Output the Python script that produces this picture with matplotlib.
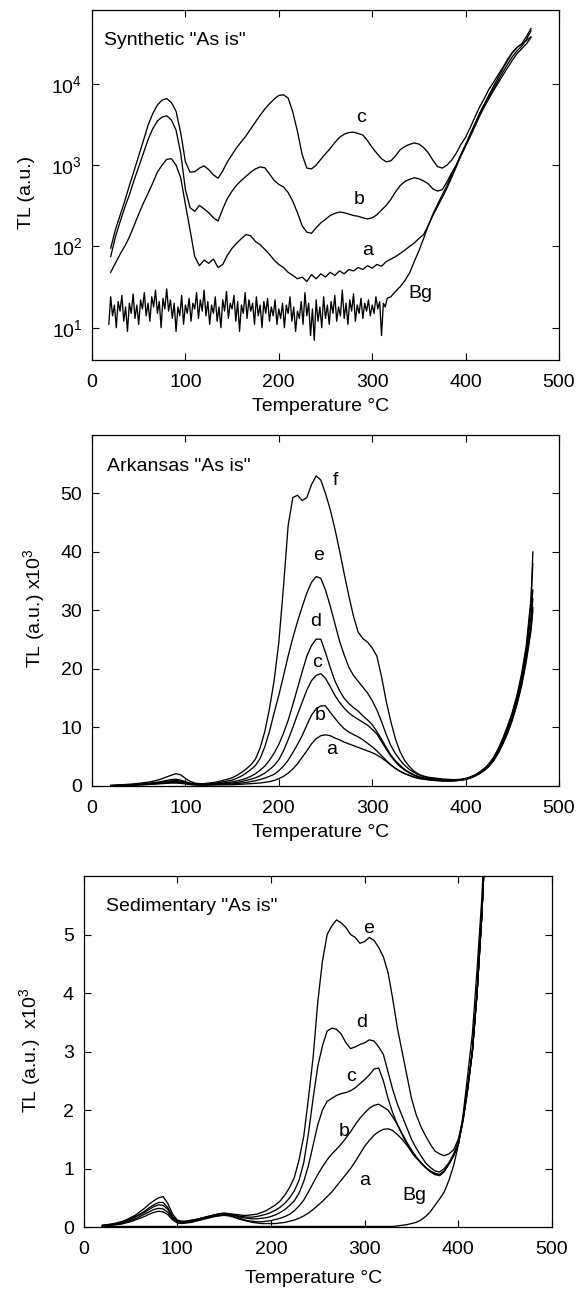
import numpy as np
import matplotlib
matplotlib.use("Agg")
import matplotlib.pyplot as plt
from matplotlib.ticker import NullLocator, FixedLocator

plt.rcParams['font.family'] = ['Liberation Sans', 'DejaVu Sans']
plt.rcParams['mathtext.fontset'] = 'custom'
plt.rcParams['mathtext.rm'] = 'Liberation Sans'
plt.rcParams['mathtext.it'] = 'Liberation Sans'
plt.rcParams['mathtext.bf'] = 'Liberation Sans'

# ---------------- Panel 1: Synthetic "As is" (log scale) ----------------
T1 = np.arange(20, 471, 5)
syn_c = [95, 160, 240, 360, 560, 850, 1300, 2000, 3100, 4300, 5500, 6300, 6600, 5900, 4600, 2500,
         1100, 820, 830, 920, 980, 880, 760, 690, 850, 1100, 1350, 1650, 1950, 2300, 2800, 3400,
         4100, 4900, 5700, 6500, 7200, 7350, 6700, 4500, 2600, 1350, 920, 900, 1000, 1180, 1380,
         1600, 1900, 2200, 2400, 2520, 2550, 2450, 2350, 2000, 1650, 1400, 1200, 1100, 1130, 1300,
         1550, 1700, 1800, 1880, 1820, 1650, 1420, 1150, 960, 920, 1000, 1150, 1400, 1800, 2200,
         2900, 3900, 5200, 6600, 8600, 10500, 13000, 16000, 20000, 24500, 28000, 31000, 38000, 48000]
syn_b = [75, 130, 200, 300, 430, 650, 950, 1400, 2050, 2800, 3500, 3900, 4050, 3600, 2700, 1400,
         500, 300, 270, 320, 290, 260, 225, 205, 290, 390, 480, 570, 650, 730, 820, 900, 950, 930,
         780, 650, 580, 540, 460, 360, 260, 180, 150, 145, 170, 195, 215, 240, 255, 265, 260, 250,
         240, 235, 225, 218, 225, 245, 280, 320, 380, 470, 560, 630, 670, 700, 680, 640, 590, 510,
         480, 500, 620, 800, 1000, 1350, 1750, 2400, 3200, 4300, 5600, 7000, 8800, 11000, 14000,
         17500, 21500, 25500, 29000, 35000, 45000]
syn_a = [48, 62, 80, 100, 130, 180, 250, 340, 450, 600, 820, 1000, 1180, 1200, 1000, 700, 330,
         160, 75, 58, 68, 62, 70, 55, 60, 78, 95, 110, 125, 140, 135, 115, 105, 92, 80, 68, 60, 55,
         48, 44, 40, 42, 37, 45, 40, 46, 42, 48, 44, 50, 46, 52, 50, 55, 52, 58, 54, 60, 57, 65, 70,
         75, 82, 90, 100, 110, 125, 140, 180, 240, 310, 400, 520, 700, 950, 1300, 1700, 2250, 3000,
         4000, 5200, 6600, 8300, 10300, 12800, 15800, 19500, 23500, 27000, 31000, 37000]
T1_bg = np.concatenate([np.arange(18, 317, 2), np.arange(320, 471, 5)])
syn_bg = [11, 24, 14, 19, 10, 21, 16, 25, 12, 18, 9, 20, 15, 26, 13, 19, 11, 22, 17, 27, 14, 20,
          12, 24, 18, 29, 15, 21, 10, 23, 17, 30, 16, 22, 13, 20, 9, 18, 14, 25, 11, 19, 15, 23,
          12, 20, 17, 27, 13, 22, 16, 29, 14, 21, 11, 19, 15, 24, 12, 18, 10, 22, 16, 28, 13, 20,
          17, 25, 12, 21, 9, 19, 15, 27, 13, 22, 16, 20, 11, 24, 14, 19, 10, 21, 15, 23, 12, 18,
          14, 22, 11, 17, 13, 20, 10, 19, 15, 24, 12, 18, 9, 16, 13, 21, 11, 27, 14, 20, 8, 17, 7,
          22, 12, 18, 10, 24, 13, 19, 11, 21, 15, 25, 12, 18, 14, 29, 13, 20, 11, 22, 16, 26, 12,
          19, 15, 23, 13, 20, 16, 22, 14, 19, 15, 24, 17, 21, 8, 20, 18, 23,
          24, 28, 32, 38, 47, 65, 88, 125, 180, 250, 330, 430, 560, 760, 1000, 1350, 1800, 2400,
          3200, 4300, 5600, 7300, 9400, 12000, 15500, 19500, 24000, 28000, 31000, 34000, 38000]

# ---------------- Panel 2: Arkansas "As is" (x10^3) ----------------
T2 = np.append(np.arange(20, 471, 5), 472)
ark_f = [0.10, 0.15, 0.2, 0.25, 0.3, 0.38, 0.45, 0.55, 0.65, 0.8, 1.0, 1.25, 1.55, 1.85, 2.1, 1.9,
         1.3, 0.8, 0.5, 0.4, 0.4, 0.5, 0.6, 0.75, 0.95, 1.15, 1.4, 1.8, 2.3, 2.9, 3.6, 4.6, 6.5, 9.3,
         13.2, 18, 24.5, 34, 44.5, 49.3, 49.7, 48.8, 49.3, 51.5, 53, 52.3, 50, 47.3, 44, 40.3, 36.3,
         32.5, 29, 26.3, 25.2, 24.6, 23.6, 22.2, 18.7, 14.5, 11, 8, 5.8, 4.3, 3.3, 2.5, 2.0, 1.7,
         1.5, 1.4, 1.3, 1.2, 1.15, 1.1, 1.1, 1.15, 1.3, 1.55, 1.9, 2.4, 3.0, 3.8, 4.9, 6.4, 8.2,
         10.3, 12.6, 15.5, 19.2, 24, 32, 38]
ark_e = [0.08, 0.1, 0.13, 0.17, 0.2, 0.25, 0.3, 0.37, 0.45, 0.55, 0.65, 0.8, 0.95, 1.1, 1.15,
         1.0, 0.75, 0.5, 0.35, 0.3, 0.3, 0.35, 0.45, 0.55, 0.7, 0.85, 1.0, 1.3, 1.7, 2.2, 2.8, 3.5,
         4.7, 6.7, 9.3, 12.5, 15.5, 18.8, 22.2, 25.3, 28.1, 30.6, 33, 34.8, 35.8, 35.5, 33.5, 30.8,
         27.8, 24.8, 22.4, 20.3, 18.9, 17.9, 16.9, 15.9, 14.6, 13, 11, 8.8, 6.9, 5.5, 4.4, 3.5,
         2.8, 2.3, 1.9, 1.6, 1.4, 1.25, 1.15, 1.05, 1.0, 1.0, 1.0, 1.1, 1.25, 1.5, 1.85, 2.3, 2.9,
         3.7, 4.8, 6.2, 8.0, 10.1, 12.4, 15.2, 18.8, 23.5, 31, 40]
ark_d = [0.07, 0.09, 0.12, 0.15, 0.18, 0.22, 0.27, 0.33, 0.4, 0.48, 0.57, 0.67, 0.78, 0.88, 0.92,
         0.82, 0.62, 0.42, 0.3, 0.26, 0.26, 0.3, 0.36, 0.44, 0.52, 0.6, 0.7, 0.85, 1.05, 1.3, 1.65,
         2.1, 2.7, 3.4, 4.4, 5.6, 7.1, 9.0, 11.2, 13.9, 16.7, 19.5, 22.2, 24, 25.1, 25.1, 22.8, 20.3,
         18, 16.3, 15, 14.1, 13.4, 12.8, 12, 11.3, 10.5, 9.3, 8, 6.6, 5.3, 4.3, 3.5, 2.8, 2.3, 1.9,
         1.6, 1.4, 1.25, 1.15, 1.05, 0.98, 0.95, 0.95, 0.97, 1.05, 1.2, 1.45, 1.8, 2.25, 2.8, 3.6,
         4.6, 6.0, 7.7, 9.7, 12.0, 14.8, 18.3, 22.8, 29, 33.5]
ark_c = [0.06, 0.08, 0.1, 0.13, 0.16, 0.2, 0.24, 0.29, 0.35, 0.42, 0.5, 0.58, 0.67, 0.74, 0.76,
         0.68, 0.52, 0.36, 0.26, 0.22, 0.22, 0.25, 0.3, 0.36, 0.42, 0.47, 0.5, 0.6, 0.75, 0.95, 1.15,
         1.4, 1.75, 2.2, 2.8, 3.5, 4.5, 6.0, 7.9, 10, 12.2, 14.3, 16.4, 18, 18.9, 19.2, 18.4, 17,
         15.5, 14.3, 13.3, 12.5, 11.9, 11.4, 10.9, 10.4, 9.7, 8.9, 7.6, 6.3, 5.1, 4.1, 3.3, 2.7, 2.2,
         1.8, 1.5, 1.3, 1.2, 1.1, 1.0, 0.95, 0.92, 0.92, 0.95, 1.02, 1.17, 1.4, 1.75, 2.2, 2.75, 3.5,
         4.5, 5.8, 7.5, 9.4, 11.7, 14.4, 17.8, 22.2, 27.5, 32]
ark_b = [0.05, 0.07, 0.09, 0.11, 0.14, 0.17, 0.2, 0.24, 0.29, 0.35, 0.42, 0.49, 0.56, 0.61, 0.62,
         0.56, 0.43, 0.3, 0.22, 0.19, 0.19, 0.21, 0.24, 0.28, 0.31, 0.33, 0.35, 0.42, 0.5, 0.6, 0.75,
         0.9, 1.1, 1.35, 1.65, 2.0, 2.6, 3.4, 4.4, 5.7, 7.1, 8.6, 10.4, 12.1, 13.2, 13.7, 13.7, 12.6,
         11.6, 10.6, 9.8, 9.2, 8.8, 8.4, 7.9, 7.3, 6.7, 6.0, 5.2, 4.4, 3.6, 3.0, 2.5, 2.1, 1.8, 1.5,
         1.3, 1.2, 1.1, 1.0, 0.95, 0.9, 0.88, 0.88, 0.92, 1.0, 1.15, 1.38, 1.7, 2.15, 2.7, 3.4, 4.4,
         5.7, 7.3, 9.2, 11.4, 14.1, 17.4, 21.7, 27, 30.5]
ark_a = [0.04, 0.06, 0.08, 0.1, 0.12, 0.15, 0.18, 0.21, 0.25, 0.3, 0.35, 0.4, 0.46, 0.5, 0.5, 0.45,
         0.35, 0.25, 0.18, 0.16, 0.16, 0.17, 0.18, 0.19, 0.2, 0.21, 0.22, 0.26, 0.3, 0.35, 0.4, 0.45,
         0.52, 0.62, 0.75, 0.95, 1.25, 1.65, 2.2, 2.9, 3.8, 4.9, 6.0, 7.2, 8.1, 8.6, 8.75, 8.6, 8.2,
         7.9, 7.5, 7.2, 6.9, 6.6, 6.3, 6.0, 5.7, 5.3, 4.8, 4.2, 3.6, 3.0, 2.5, 2.1, 1.8, 1.5, 1.3,
         1.15, 1.05, 0.95, 0.9, 0.86, 0.84, 0.85, 0.9, 0.98, 1.12, 1.35, 1.67, 2.1, 2.65, 3.35, 4.3,
         5.6, 7.2, 9.0, 11.2, 13.9, 17.1, 21.3, 26.5, 30]

# ---------------- Panel 3: Sedimentary "As is" (x10^3) ----------------
T3 = np.arange(20, 431, 5)
sed_e = [0.03, 0.04, 0.05, 0.07, 0.09, 0.12, 0.16, 0.2, 0.26, 0.32, 0.39, 0.45, 0.5, 0.52, 0.4,
         0.22, 0.12, 0.1, 0.1, 0.12, 0.13, 0.15, 0.17, 0.19, 0.21, 0.23, 0.24, 0.23, 0.22, 0.21, 0.2,
         0.2, 0.21, 0.22, 0.25, 0.28, 0.33, 0.38, 0.45, 0.55, 0.68, 0.85, 1.15, 1.55, 2.2, 2.9, 3.85,
         4.55, 5.0, 5.15, 5.25, 5.2, 5.12, 5.0, 4.95, 4.85, 4.88, 4.95, 4.9, 4.78, 4.62, 4.35, 3.9,
         3.4, 3.0, 2.6, 2.2, 1.92, 1.72, 1.56, 1.42, 1.3, 1.25, 1.22, 1.25, 1.32, 1.5, 1.85, 2.4,
         3.0, 4.0, 5.3, 7.0]
sed_d = [0.03, 0.04, 0.05, 0.06, 0.08, 0.11, 0.14, 0.18, 0.22, 0.27, 0.33, 0.38, 0.42, 0.42, 0.33,
         0.18, 0.1, 0.09, 0.1, 0.11, 0.13, 0.15, 0.17, 0.19, 0.21, 0.22, 0.23, 0.22, 0.21, 0.19,
         0.18, 0.17, 0.17, 0.18, 0.2, 0.22, 0.25, 0.29, 0.34, 0.41, 0.5, 0.62, 0.8, 1.1, 1.6, 2.2,
         2.75, 3.1, 3.35, 3.4, 3.38, 3.3, 3.15, 3.05, 3.08, 3.12, 3.15, 3.2, 3.18, 3.08, 2.95, 2.65,
         2.35, 2.1, 1.9, 1.7, 1.5, 1.35, 1.22, 1.1, 1.02, 0.96, 0.94, 1.0, 1.1, 1.25, 1.45, 1.85,
         2.4, 3.0, 4.0, 5.3, 7.0]
sed_c = [0.02, 0.03, 0.04, 0.05, 0.07, 0.1, 0.13, 0.17, 0.21, 0.25, 0.3, 0.35, 0.38, 0.37, 0.3,
         0.16, 0.09, 0.08, 0.09, 0.1, 0.12, 0.14, 0.16, 0.18, 0.2, 0.21, 0.22, 0.21, 0.2, 0.18,
         0.16, 0.15, 0.14, 0.14, 0.15, 0.16, 0.18, 0.21, 0.25, 0.3, 0.37, 0.45, 0.58, 0.78, 1.05,
         1.4, 1.75, 2.0, 2.15, 2.2, 2.25, 2.28, 2.3, 2.33, 2.38, 2.45, 2.52, 2.6, 2.7, 2.72, 2.5,
         2.2, 1.95, 1.75, 1.58, 1.42, 1.28, 1.18, 1.1, 1.02, 0.95, 0.9, 0.88, 0.95, 1.08, 1.22,
         1.42, 1.82, 2.35, 3.0, 4.0, 5.3, 7.0]
sed_b = [0.02, 0.03, 0.04, 0.05, 0.06, 0.08, 0.11, 0.14, 0.18, 0.22, 0.26, 0.3, 0.32, 0.31, 0.25,
         0.14, 0.08, 0.07, 0.08, 0.09, 0.11, 0.13, 0.15, 0.17, 0.19, 0.2, 0.21, 0.2, 0.18, 0.16,
         0.13, 0.11, 0.1, 0.09, 0.09, 0.1, 0.11, 0.13, 0.15, 0.18, 0.22, 0.28, 0.36, 0.46, 0.6,
         0.75, 0.9, 1.03, 1.15, 1.25, 1.33, 1.42, 1.52, 1.63, 1.75, 1.86, 1.95, 2.03, 2.08, 2.1,
         2.05, 2.0, 1.88, 1.75, 1.6, 1.45, 1.32, 1.2, 1.1, 1.02, 0.95, 0.9, 0.88, 0.95, 1.08, 1.22,
         1.42, 1.82, 2.35, 3.0, 4.0, 5.3, 7.0]
sed_a = [0.02, 0.02, 0.03, 0.04, 0.05, 0.07, 0.09, 0.12, 0.15, 0.18, 0.22, 0.25, 0.27, 0.26, 0.21,
         0.12, 0.07, 0.06, 0.07, 0.08, 0.1, 0.12, 0.14, 0.16, 0.18, 0.19, 0.2, 0.19, 0.17, 0.14,
         0.12, 0.1, 0.08, 0.07, 0.06, 0.06, 0.06, 0.06, 0.07, 0.08, 0.1, 0.12, 0.15, 0.19, 0.24,
         0.3, 0.37, 0.44, 0.52, 0.6, 0.7, 0.8, 0.9, 1.0, 1.12, 1.25, 1.38, 1.48, 1.57, 1.63, 1.67,
         1.68, 1.65, 1.58, 1.5, 1.4, 1.3, 1.2, 1.1, 1.02, 0.96, 0.92, 0.9, 0.96, 1.08, 1.22, 1.42,
         1.82, 2.35, 3.0, 4.0, 5.3, 7.0]
sed_bg = [0.01, 0.01, 0.01, 0.01, 0.01, 0.01, 0.01, 0.01, 0.01, 0.01, 0.01, 0.01, 0.01, 0.01,
          0.01, 0.01, 0.01, 0.01, 0.01, 0.01, 0.01, 0.01, 0.01, 0.01, 0.01, 0.01, 0.01, 0.01, 0.01,
          0.01, 0.01, 0.01, 0.01, 0.01, 0.01, 0.01, 0.01, 0.01, 0.01, 0.01, 0.01, 0.01, 0.01, 0.01,
          0.01, 0.01, 0.01, 0.01, 0.01, 0.01, 0.01, 0.01, 0.01, 0.01, 0.01, 0.01, 0.01, 0.01, 0.01,
          0.01, 0.01, 0.01, 0.01, 0.02, 0.03, 0.04, 0.06, 0.08, 0.12, 0.18, 0.26, 0.37, 0.48, 0.6,
          0.8, 1.05, 1.4, 1.9, 2.6, 3.3, 4.4, 5.6, 7.2]

xticks = [0, 100, 200, 300, 400, 500]
xlabel = "Temperature °C"

fig = plt.figure(figsize=(5.83, 12.9), dpi=100)
ax1 = fig.add_axes([0.1578, 0.7209, 0.801, 0.2713])
ax2 = fig.add_axes([0.1578, 0.3907, 0.801, 0.2721])
ax3 = fig.add_axes([0.1434, 0.0488, 0.8034, 0.2721])

lw = 0.95
FS = 14

def style(ax, xl_y):
    ax.set_xlim(0, 500)
    ax.xaxis.set_major_locator(FixedLocator(xticks))
    ax.tick_params(direction='in', top=True, right=True, length=5, width=0.8,
                   labelsize=FS, pad=7)
    ax.tick_params(axis='x', pad=10)
    ax.tick_params(which='minor', length=0)
    for s in ax.spines.values():
        s.set_linewidth(0.9)
    ax.set_xlabel(xlabel, fontsize=FS)
    ax.xaxis.set_label_coords(0.49, xl_y)

# Panel 1
for y in (syn_c, syn_b, syn_a):
    ax1.plot(T1, y, color='black', lw=lw)
ax1.plot(T1_bg, syn_bg, color='black', lw=lw)
ax1.set_yscale('log')
ax1.set_ylim(4.0, 8.1e4)
ax1.yaxis.set_major_locator(FixedLocator([10, 100, 1000, 10000]))
ax1.yaxis.set_minor_locator(NullLocator())
style(ax1, -0.108)
ax1.set_ylabel("TL (a.u.)", fontsize=FS)
ax1.yaxis.set_label_coords(-0.121, 0.48)
ax1.text(0.025, 0.914, 'Synthetic "As is"', transform=ax1.transAxes, fontsize=14,
         ha='left', va='center')
ax1.text(288, 3.9e3, 'c', fontsize=FS, ha='center', va='center')
ax1.text(286, 3.8e2, 'b', fontsize=FS, ha='center', va='center')
ax1.text(295, 9.0e1, 'a', fontsize=FS, ha='center', va='center')
ax1.text(352, 2.6e1, 'Bg', fontsize=FS, ha='center', va='center')

# Panel 2
for y in (ark_f, ark_e, ark_d, ark_c, ark_b, ark_a):
    ax2.plot(T2, y, color='black', lw=lw)
ax2.set_ylim(0, 60)
ax2.yaxis.set_major_locator(FixedLocator([0, 10, 20, 30, 40, 50]))
style(ax2, -0.108)
ax2.set_ylabel("TL (a.u.) x10$^3$", fontsize=FS)
ax2.yaxis.set_label_coords(-0.0974, 0.507)
ax2.text(0.033, 0.91, 'Arkansas "As is"', transform=ax2.transAxes, fontsize=14,
         ha='left', va='center')
for lab, tx, ty in (('f', 261, 52.3), ('e', 242.6, 39.4), ('d', 239.8, 28.2),
                    ('c', 240.6, 21.1), ('b', 244.6, 12.0), ('a', 256.6, 6.2)):
    ax2.text(tx, ty, lab, fontsize=FS, ha='center', va='center')

# Panel 3
for y in (sed_e, sed_d, sed_c, sed_b, sed_a, sed_bg):
    ax3.plot(T3, y, color='black', lw=lw)
ax3.set_ylim(0, 6)
ax3.yaxis.set_major_locator(FixedLocator([0, 1, 2, 3, 4, 5]))
style(ax3, -0.122)
ax3.set_ylabel("TL (a.u.)  x10$^3$", fontsize=FS)
ax3.yaxis.set_label_coords(-0.0867, 0.504)
ax3.text(0.048, 0.913, 'Sedimentary "As is"', transform=ax3.transAxes, fontsize=14,
         ha='left', va='center')
for lab, tx, ty in (('e', 304.5, 5.11), ('d', 296.5, 3.49), ('c', 285.3, 2.58),
                    ('b', 278, 1.63), ('a', 300.5, 0.8), ('Bg', 353, 0.54)):
    ax3.text(tx, ty, lab, fontsize=FS, ha='center', va='center')

fig.savefig("out.png", dpi=100)
